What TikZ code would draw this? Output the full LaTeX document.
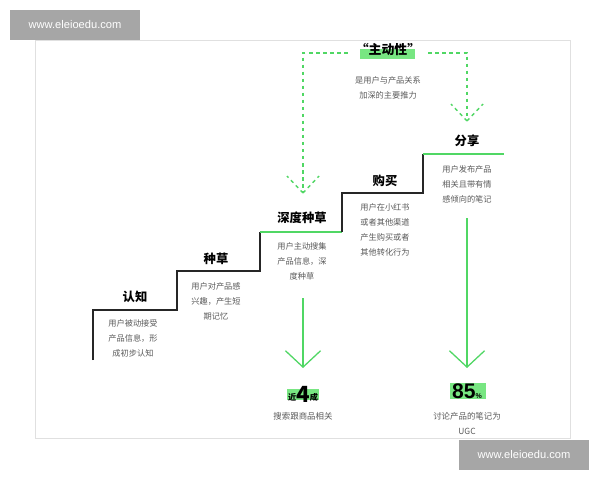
\documentclass[tikz,border=0pt]{standalone}
\usepackage{fontspec}
\setmainfont{Liberation Sans}
\newfontfamily\cjk{Noto Sans CJK SC}
\usetikzlibrary{arrows.meta,positioning}
\definecolor{mygreen}{RGB}{80,215,100}
\definecolor{hlgreen}{RGB}{120,230,130}
\definecolor{descgray}{RGB}{90,90,90}

\begin{document}
\begin{tikzpicture}[x=0.03cm,y=-0.03cm]
    \tikzstyle{stair}=[line width=1.4pt,black!85]
    \tikzstyle{gstair}=[line width=1.4pt,mygreen]
    \tikzstyle{title}=[font=\cjk\bfseries\fontsize{10.5}{12}\selectfont]
    \tikzstyle{desc}=[font=\cjk\fontsize{7}{13}\selectfont,text=descgray,align=center]
    \tikzstyle{dash line}=[mygreen,line width=1.2pt,dash pattern=on 3pt off 3pt]
    \tikzstyle{big arrow}=[mygreen,line width=1.1pt,-{Straight Barb[length=14pt,width=30pt,line width=1.1pt]}]
    \tikzstyle{watermark}=[fill=black!35,text=white,font=\fontsize{9.5}{10}\selectfont,minimum width=3.9cm,minimum height=0.9cm]

    \useasboundingbox (0,0) rectangle (600,480);
    \fill[white] (0,0) rectangle (600,480);
    \draw[black!12] (35,40) rectangle (570,438);

    % Watermarks
    \node[watermark] (wm1) at (75,25) {www.eleioedu.com};
    \node[watermark] (wm2) at (524,455) {www.eleioedu.com};

    % Staircase
    \draw[stair] (93,360) -- (93,310) -- (177,310) -- (177,271) -- (260,271) -- (260,232);
    \draw[gstair] (260,232) -- (342,232);
    \draw[stair] (342,232) -- (342,193) -- (423,193) -- (423,154);
    \draw[gstair] (423,154) -- (504,154);

    % Step titles
    \node[title] (s1) at (135,297) {认知};
    \node[title] (s2) at (216,259) {种草};
    \node[title] (s3) at (302,218) {深度种草};
    \node[title] (s4) at (385,181) {购买};
    \node[title] (s5) at (467,141) {分享};

    % Step descriptions
    \node[desc,anchor=north] (d1) at (133,315) {用户被动接受\\产品信息，形\\成初步认知};
    \node[desc,anchor=north] (d2) at (216,278) {用户对产品感\\兴趣，产生短\\期记忆};
    \node[desc,anchor=north] (d3) at (302,238) {用户主动搜集\\产品信息，深\\度种草};
    \node[desc,anchor=north] (d4) at (385,199) {用户在小红书\\或者其他渠道\\产生购买或者\\其他转化行为};
    \node[desc,anchor=north] (d5) at (467,161) {用户发布产品\\相关且带有情\\感倾向的笔记};

    % Top label
    \fill[hlgreen] (360,49) rectangle (415,59);
    \node[title,font=\cjk\bfseries\fontsize{11}{12}\selectfont] (act) at (388,50) {“主动性”};
    \node[desc,below=0.35cm of act] (actd) {是用户与产品关系\\加深的主要推力};

    % Dashed guides
    \coordinate (lt) at (303,193);
    \coordinate (rt) at (467,121);
    \draw[dash line] (act.west) ++(-4,3) -- (303,53) -- (lt);
    \draw[dash line] (act.east) ++(4,3) -- (467,53) -- (rt);
    \foreach \c in {lt,rt} {
        \draw[dash line] (\c) -- ++(-16,-17);
        \draw[dash line] (\c) -- ++(16,-17);
    }

    % Result arrows
    \node (r1) at (303,394) {};
    \node (r2) at (467,391) {};
    \draw[big arrow] (303,298) -- (303,368);
    \draw[big arrow] (467,218) -- (467,368);

    \fill[hlgreen] (287,389) rectangle (319,400);
    \node[font=\cjk\bfseries\fontsize{7}{8}\selectfont,inner sep=0pt] at (r1)
        {近\raisebox{-1pt}{\fontsize{19}{20}\selectfont 4}成};
    \node[desc,font=\cjk\fontsize{7.2}{13}\selectfont] (r1d) at (303,416) {搜索跟商品相关};

    \fill[hlgreen] (450,383) rectangle (486,399);
    \node[font=\bfseries\fontsize{18}{20}\selectfont,inner sep=0pt] at (r2)
        {85\raisebox{0pt}{\fontsize{6}{7}\selectfont\%}};
    \node[desc,font=\cjk\fontsize{7.2}{13}\selectfont,anchor=north] (r2d) at (467,408) {讨论产品的笔记为\\UGC};
\end{tikzpicture}
\end{document}
